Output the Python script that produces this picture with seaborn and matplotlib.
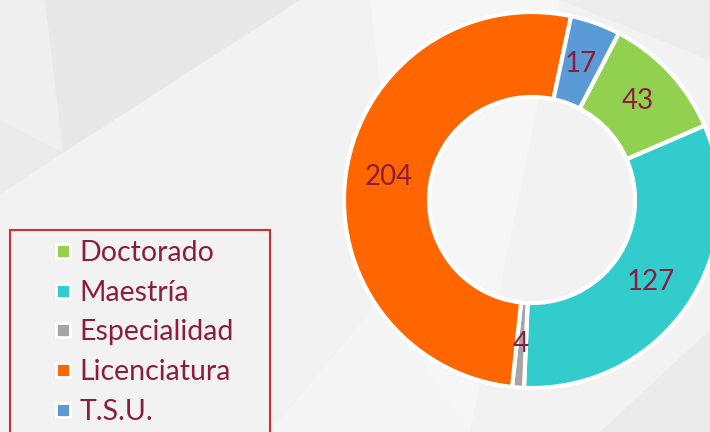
import matplotlib
matplotlib.use('Agg')
import matplotlib.pyplot as plt
import seaborn as sns
from matplotlib.lines import Line2D
from matplotlib.patches import Polygon

categories = ['Doctorado', 'Maestría', 'Especialidad', 'Licenciatura', 'T.S.U.']
values = [43, 127, 4, 204, 17]
colors = ['#92D050', '#33CCCC', '#A5A5A5', '#FF6600', '#5B9BD5']
text_color = '#8B1E3F'

sns.set_theme(style='white')
plt.rcParams['font.family'] = ['Lato', 'DejaVu Sans']

W, H = 710, 432
fig = plt.figure(figsize=(7.1, 4.32), dpi=100)
fig.patch.set_facecolor('#f2f2f2')
ax = fig.add_axes([0, 0, 1, 1])

def P(pts):
    return [(x, H - y) for x, y in pts]

bg = [
    ([(0, 0), (45, 0), (63, 153), (0, 195)], '#efefef'),
    ([(45, 0), (300, 0), (63, 153)], '#e8e8e8'),
    ([(0, 120), (63, 153), (0, 195)], '#ebebeb'),
    ([(370, 0), (560, 0), (470, 432), (420, 432)], '#f6f6f6'),
    ([(560, 0), (710, 0), (710, 60)], '#ececec'),
    ([(600, 432), (710, 330), (710, 432)], '#ebebeb'),
    ([(270, 432), (380, 300), (470, 432)], '#f5f5f5'),
]
for pts, c in bg:
    ax.add_patch(Polygon(P(pts), closed=True, facecolor=c, edgecolor='none', zorder=0))

total = sum(values)
wedges, texts, autotexts = ax.pie(
    values, colors=colors, startangle=62.5, counterclock=False,
    radius=188, center=(532, H - 200), explode=[0.03] * len(values),
    wedgeprops=dict(width=85, edgecolor='white', linewidth=3),
    autopct=lambda p: f'{round(p * total / 100)}', pctdistance=0.77,
    textprops=dict(color=text_color, fontsize=20), frame=True)
for w in wedges:
    w.set_zorder(2)
for t in autotexts:
    t.set_zorder(3)

ax.set_xlim(0, W)
ax.set_ylim(0, H)
ax.set_aspect('equal', adjustable='box')
ax.axis('off')

handles = [Line2D([], [], marker='s', linestyle='none', markersize=10,
                  markerfacecolor=c, markeredgecolor='white', markeredgewidth=2)
           for c in colors]
leg = ax.legend(handles, categories, loc='upper left',
                bbox_to_anchor=(10 / W, 0, 260 / W, 1 - 230 / H), mode='expand',
                fontsize=20.5, labelcolor=text_color, frameon=True, fancybox=False,
                edgecolor='#C00000', facecolor='none', framealpha=None,
                handlelength=3.0, handletextpad=-0.9, borderaxespad=0,
                borderpad=0.35, labelspacing=0.48)
leg.get_frame().set_linewidth(1.5)

fig.savefig('out.png', dpi=100, facecolor=fig.get_facecolor())
